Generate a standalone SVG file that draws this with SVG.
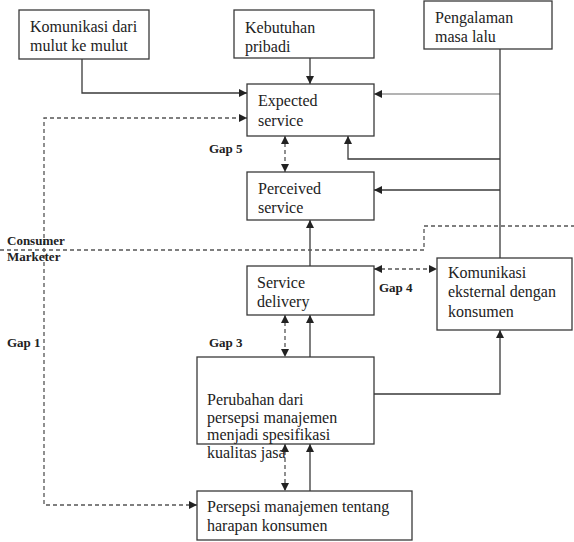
<svg xmlns="http://www.w3.org/2000/svg" width="574" height="542" viewBox="0 0 574 542">
<style>
  .box{fill:#fff;stroke:#3a3a3a;stroke-width:1.3}
  .t{font-family:"Liberation Serif","Times New Roman",serif;font-size:16px;fill:#222}
  .g{font-family:"Liberation Serif","Times New Roman",serif;font-size:13px;font-weight:bold;fill:#222}
  .ln{fill:none;stroke:#3a3a3a;stroke-width:1.3}
  .lt{fill:none;stroke:#9a9a9a;stroke-width:1.3}
  .ds{fill:none;stroke:#555;stroke-width:1.3;stroke-dasharray:4 3}
</style>
<defs>
  <marker id="ah" markerUnits="userSpaceOnUse" markerWidth="9" markerHeight="8" refX="8" refY="4" orient="auto-start-reverse">
    <path d="M0,0 L8,4 L0,8 z" fill="#222"/>
  </marker>
</defs>
<rect width="574" height="542" fill="#fff"/>
<g id="connectors">
  <path class="ln" d="M82,59 V93 H247" marker-end="url(#ah)"/>
  <path class="ln" d="M310,58 V84" marker-end="url(#ah)"/>
  <path class="lt" d="M500,94 H374" marker-end="url(#ah)"/>
  <path class="ln" d="M500,49 V258"/>
  <path class="ln" d="M500,159 H348 V136" marker-end="url(#ah)"/>
  <path class="ln" d="M500,190 H374" marker-end="url(#ah)"/>
  <path class="ln" d="M310,266 V220" marker-end="url(#ah)"/>
  <path class="ds" d="M285,136 V172" marker-start="url(#ah)" marker-end="url(#ah)"/>
  <path class="ds" d="M374,269 H437" marker-start="url(#ah)" marker-end="url(#ah)"/>
  <path class="ds" d="M285,315 V357" marker-start="url(#ah)" marker-end="url(#ah)"/>
  <path class="ln" d="M310,357 V315" marker-end="url(#ah)"/>
  <path class="ln" d="M374,394 H500 V330" marker-end="url(#ah)"/>
  <path class="ln" d="M310,491 V444" marker-end="url(#ah)"/>
  <path class="ds" d="M285,444 V491" marker-start="url(#ah)" marker-end="url(#ah)"/>
  <path class="ds" d="M197,505 H44 V118 H247" marker-start="url(#ah)" marker-end="url(#ah)"/>
  <path class="ds" d="M0,250 H424 V226 H574"/>
</g>
<g id="labels">
  <text class="g" x="7" y="245">Consumer</text>
  <text class="g" x="7" y="261">Marketer</text>
  <text class="g" x="209" y="153">Gap 5</text>
  <text class="g" x="379" y="292">Gap 4</text>
  <text class="g" x="209" y="347">Gap 3</text>
  <text class="g" x="7" y="347">Gap 1</text>
</g>
<g id="komunikasi-mulut">
  <rect class="box" x="19" y="10" width="130" height="49"/>
  <text class="t" x="30" y="32">Komunikasi dari</text>
  <text class="t" x="30" y="51">mulut ke mulut</text>
</g>
<g id="kebutuhan">
  <rect class="box" x="234" y="10" width="140" height="48"/>
  <text class="t" x="245" y="33">Kebutuhan</text>
  <text class="t" x="245" y="52">pribadi</text>
</g>
<g id="pengalaman">
  <rect class="box" x="424" y="1" width="128" height="48"/>
  <text class="t" x="435" y="23">Pengalaman</text>
  <text class="t" x="435" y="42">masa lalu</text>
</g>
<g id="expected">
  <rect class="box" x="247" y="84" width="127" height="52"/>
  <text class="t" x="258" y="106">Expected</text>
  <text class="t" x="258" y="126">service</text>
</g>
<g id="perceived">
  <rect class="box" x="247" y="172" width="127" height="48"/>
  <text class="t" x="258" y="194">Perceived</text>
  <text class="t" x="258" y="213">service</text>
</g>
<g id="service-delivery">
  <rect class="box" x="247" y="266" width="127" height="49"/>
  <text class="t" x="257" y="288">Service</text>
  <text class="t" x="257" y="307">delivery</text>
</g>
<g id="komunikasi-eksternal">
  <rect class="box" x="437" y="258" width="135" height="72"/>
  <text class="t" x="448" y="278">Komunikasi</text>
  <text class="t" x="448" y="297">eksternal dengan</text>
  <text class="t" x="448" y="317">konsumen</text>
</g>
<g id="perubahan">
  <rect class="box" x="197" y="357" width="177" height="87"/>
  <text class="t" x="207" y="405">Perubahan dari</text>
  <text class="t" x="207" y="423">persepsi manajemen</text>
  <text class="t" x="207" y="440">menjadi spesifikasi</text>
  <text class="t" x="207" y="458">kualitas jasa</text>
</g>
<g id="persepsi">
  <rect class="box" x="197" y="491" width="215" height="49"/>
  <text class="t" x="207" y="512">Persepsi manajemen tentang</text>
  <text class="t" x="207" y="531">harapan konsumen</text>
</g>
</svg>
